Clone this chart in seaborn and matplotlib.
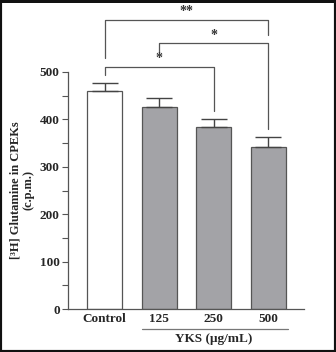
import matplotlib
matplotlib.use("Agg")
import matplotlib.pyplot as plt
import seaborn as sns
import pandas as pd
import numpy as np
from matplotlib.patches import Rectangle
from matplotlib.ticker import MultipleLocator

categories = ["Control", "125", "250", "500"]
values = [460, 427, 383, 342]
errors = [17, 19, 17, 21]
bar_colors = ["#ffffff", "#a3a3a7", "#a3a3a7", "#a3a3a7"]
y_ticks = [0, 100, 200, 300, 400, 500]

sns.set_style("ticks")
plt.rcParams["font.family"] = ["Liberation Serif", "DejaVu Serif"]
plt.rcParams["font.weight"] = "bold"

fig = plt.figure(figsize=(3.36, 3.52), dpi=100)
ax = fig.add_axes([68/336, 1-309/352, (304-68)/336, (309-72)/352])

df = pd.DataFrame({"cat": categories, "val": values})
sns.barplot(data=df, x="cat", y="val", order=categories, palette=bar_colors,
            hue="cat", legend=False, width=0.64, edgecolor="#555555",
            linewidth=0.9, ax=ax, saturation=1)

xs = np.arange(len(categories))
ax.errorbar(xs, values, yerr=[np.zeros(len(values)), errors], fmt="none",
            ecolor="#444444", elinewidth=1.0, capsize=9.5, capthick=1.0, zorder=5)

ax.set_xlim(-0.668, 3.65)
ax.set_ylim(0, 500)
ax.set_yticks(y_ticks)
ax.yaxis.set_minor_locator(MultipleLocator(50))
ax.tick_params(axis="y", which="major", length=4, width=0.8, color="#555555",
               labelsize=9.5, pad=2)
ax.tick_params(axis="y", which="minor", length=4, width=0.8, color="#555555")
ax.tick_params(axis="x", length=0, labelsize=9.5, pad=3)
for lab in ax.get_xticklabels() + ax.get_yticklabels():
    lab.set_fontweight("bold")
sns.despine(ax=ax)
ax.spines["left"].set_color("#555555")
ax.spines["bottom"].set_color("#555555")
ax.spines["left"].set_linewidth(0.9)
ax.spines["bottom"].set_linewidth(0.9)
ax.set_xlabel("")
ax.set_ylabel("[\u00b3H] Glutamine in CPEKs\n(c.p.m.)", fontsize=9,
              fontweight="bold", labelpad=4, linespacing=1.05)

# significance brackets
def bracket(x1, x2, y, y1, y2, label, ly, fs=10):
    ax.plot([x1, x1, x2, x2], [y1, y, y, y2], color="#555555", lw=0.9,
            clip_on=False)
    ax.text((x1 + x2) / 2, ly, label, ha="center", va="center", fontsize=fs,
            fontweight="bold", color="#333333")

bracket(0, 3, 610, 530, 578, "**", 627)
bracket(1, 3, 561, 542, 380, "*", 578)
bracket(0, 2, 511, 494, 418, "*", 528)

# YKS group line and label
ax.plot([0.69, 3.35], [-42, -42], color="#777777", lw=0.9, clip_on=False)
ax.text(2.0, -64, "YKS (\u03bcg/mL)", ha="center", va="center", fontsize=9.5,
        fontweight="bold")

# figure border
fig.patches.append(Rectangle((0, 0), 1, 1, transform=fig.transFigure,
                             fill=False, edgecolor="#111111", lw=3.0))
fig.patches.append(Rectangle((0, 1-3/352), 1, 3/352, transform=fig.transFigure,
                             facecolor="#111111", edgecolor="none"))

fig.savefig("out.png", dpi=100)
